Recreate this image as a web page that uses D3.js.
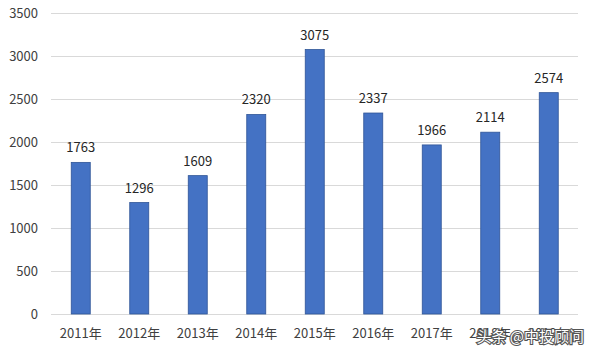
<!DOCTYPE html>
<html><head><meta charset="utf-8">
<script src="https://cdn.jsdelivr.net/npm/d3@7"></script>
<style>body{margin:0;background:#fff;} svg{display:block;}</style>
</head><body>
<svg id="c" width="591" height="354"></svg>
<script>
const categories = ["2011年","2012年","2013年","2014年","2015年","2016年","2017年","2018年","2019年"];
const values = [1763,1296,1609,2320,3075,2337,1966,2114,2574];
const yTicks = [0,500,1000,1500,2000,2500,3000,3500];

const svg = d3.select("#c");
const font = "'Noto Sans CJK SC', 'Noto Sans', sans-serif";
const x = d3.scaleBand().domain(categories).range([51.5,578]).paddingInner(0.675).paddingOuter(0.3375);
const y = d3.scaleLinear().domain([0,3500]).range([314,13]);

svg.append("g").selectAll("line").data(yTicks).join("line")
  .attr("x1",51).attr("x2",578)
  .attr("y1",d=>Math.round(y(d))+0.5).attr("y2",d=>Math.round(y(d))+0.5)
  .attr("stroke","#d9d9d9").attr("stroke-width",1);

svg.append("g").selectAll("text").data(yTicks).join("text")
  .attr("x",38).attr("y",d=>y(d)).attr("dy","0.35em")
  .attr("text-anchor","end").attr("font-family",font).attr("font-size",13)
  .attr("fill","#404040").text(d=>d);

svg.append("g").selectAll("rect").data(values).join("rect")
  .attr("x",(d,i)=>x(categories[i])).attr("width",x.bandwidth())
  .attr("y",d=>y(d)).attr("height",d=>y(0)-y(d))
  .attr("fill","#4472c4").attr("stroke","#2f5597").attr("stroke-width",0.8);

svg.append("g").selectAll("text").data(values).join("text")
  .attr("x",(d,i)=>x(categories[i])+x.bandwidth()/2).attr("y",d=>y(d)-10)
  .attr("text-anchor","middle").attr("font-family",font).attr("font-size",13)
  .attr("fill","#262626").text(d=>d);

svg.append("g").selectAll("text").data(categories).join("text")
  .attr("x",d=>x(d)+x.bandwidth()/2).attr("y",338)
  .attr("text-anchor","middle").attr("font-family",font).attr("font-size",13)
  .attr("fill","#404040").text(d=>d);

svg.append("text").attr("x",584).attr("y",342).attr("text-anchor","end")
  .attr("font-family",font).attr("font-size",15)
  .attr("fill","#fff").attr("stroke","#555").attr("stroke-width",2.2)
  .attr("paint-order","stroke").text("头条 @中投顾问");
</script>
</body></html>
